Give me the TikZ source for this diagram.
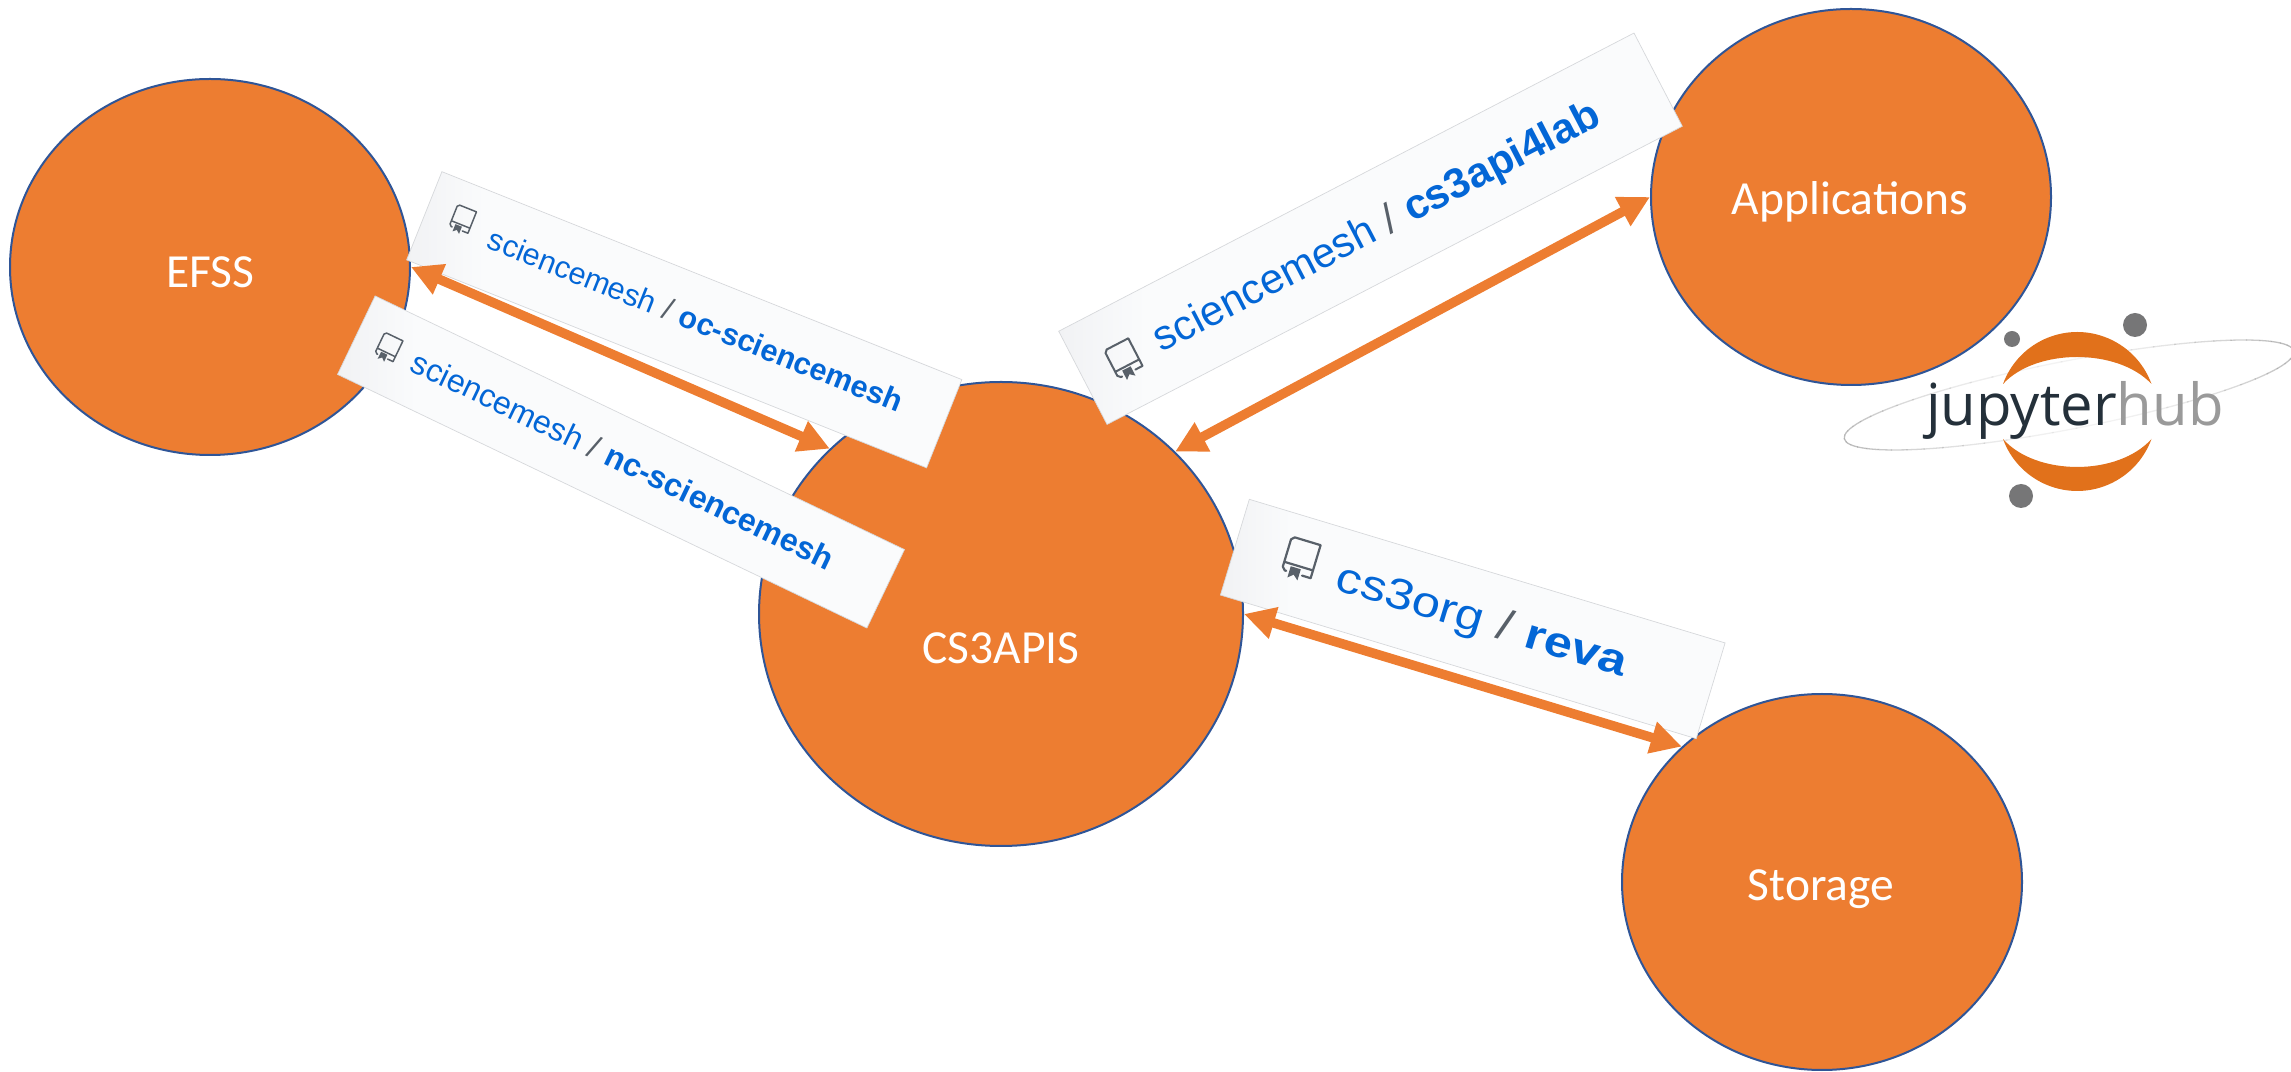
\documentclass[tikz,border=0pt]{standalone}
\usepackage{fontspec}
\setmainfont{Liberation Sans}
\newfontfamily\calibfont{Carlito}
\newfontfamily\logofont{Open Sans}
\usetikzlibrary{arrows.meta,shapes.geometric}
\definecolor{hubfill}{HTML}{ED7D31}
\definecolor{hubline}{HTML}{2F5597}
\definecolor{repoblue}{HTML}{0366D6}
\definecolor{repogray}{HTML}{586069}
\definecolor{panelfill}{HTML}{FAFBFC}
\definecolor{panelside}{HTML}{F1F2F4}
\definecolor{panelline}{HTML}{D6D8DB}
\definecolor{jorange}{HTML}{E1711B}
\definecolor{jdot}{HTML}{767677}
\definecolor{jdark}{HTML}{24303A}
\definecolor{jlight}{HTML}{9A9A9A}
\pgfdeclarehorizontalshading{panelshade}{100bp}{color(0bp)=(panelside); color(25bp)=(panelside); color(32bp)=(panelfill); color(100bp)=(panelfill)}
\tikzset{
  hub/.style={ellipse,draw=hubline,fill=hubfill,line width=2pt,inner sep=0pt},
  hubtext/.style={text=white,font=\calibfont\fontsize{47.5}{47.5}\selectfont,inner sep=0pt},
  panel/.style={rectangle,draw=panelline,line width=0.7pt,shade,shading=panelshade,inner sep=0pt},
  repotext/.style={anchor=base,inner sep=0pt,text=repoblue},
  link/.style={draw=hubfill,line width=9.5pt,{Triangle[length=31pt,width=31pt]}-{Triangle[length=31pt,width=31pt]}},
}
\newcommand{\repoicon}[3]{%
  \begin{scope}[shift={(#1)},scale=#2]
    \draw[repogray,line width=#3,line cap=round,line join=round]
      (-3.5,-5.5) -- (-4,-5.5) -- (-5,-4.5) -- (-5,5) -- (-4,6) -- (5,6) -- (5,-5.5) -- (2,-5.5)
      (-5,-2.8) -- (5,-2.8);
    \fill[repogray] (-2.5,-3.6) -- (1,-3.6) -- (1,-7.5) -- (-0.75,-6) -- (-2.5,-7.5) -- cycle;
  \end{scope}}
\newcommand{\repotxt}[2]{#1\hspace{.3em}\textcolor{repogray}{/}\hspace{.3em}{\bfseries #2}}
\begin{document}
\begin{tikzpicture}[x=1pt,y=1pt]
\useasboundingbox (0,0) rectangle (2291,1071);
\clip (0,0) rectangle (2291,1071);

\node[hub,minimum width=400pt,minimum height=376pt] (efss) at (210,804) {};
\node[hub,minimum width=484pt,minimum height=464pt] (cs3) at (1001,457) {};
\node[hub,minimum width=400pt,minimum height=376pt] (apps) at (1851,874) {};
\node[hub,minimum width=400pt,minimum height=376pt] (storage) at (1822,189) {};
\node[hubtext] (efsst) at (210,799) {EFSS};
\node[hubtext] (cs3t) at (1001,423) {CS3APIS};
\node[hubtext] (appst) at (1850,869) {Applications};
\node[hubtext] (storaget) at (1821,182) {Storage};

% oc panel
\begin{scope}[shift={(684.25,751.25)},rotate=-21.8,transform shape]
  \node[panel,minimum width=560pt,minimum height=95pt] (ocpanel) at (0,0) {};
  \repoicon{-243,11}{2.0}{1.5pt}
  \node[repotext,font=\fontsize{30.6}{30.6}\selectfont] (octext) at (11,-7) {\repotxt{sciencemesh}{oc-sciencemesh}};
\end{scope}

% nc panel
\begin{scope}[shift={(621,609)},rotate=-25.6,transform shape]
  \node[panel,minimum width=587pt,minimum height=87pt] (ncpanel) at (0,0) {};
  \repoicon{-259,3}{2.0}{1.5pt}
  \node[repotext,font=\fontsize{32}{32}\selectfont] (nctext) at (1,-9) {\repotxt{sciencemesh}{nc-sciencemesh}};
\end{scope}

% cs3api4lab panel
\begin{scope}[shift={(1370.5,842.25)},rotate=27.4,transform shape]
  \node[panel,minimum width=648pt,minimum height=105pt] (labpanel) at (0,0) {};
  \repoicon{-279,-2}{2.7}{2pt}
  \node[repotext,font=\fontsize{42}{42}\selectfont] (labtext) at (6,-14) {\repotxt{sciencemesh}{cs3api4lab}};
\end{scope}

% reva panel
\begin{scope}[shift={(1472.75,452)},rotate=-16.8,transform shape]
  \node[panel,minimum width=497pt,minimum height=100pt] (revapanel) at (0,0) {};
  \repoicon{-182,8.7}{3.0}{2.2pt}
  \node[repotext,font=\fontsize{43}{43}\selectfont] (revatext) at (9,-12) {\scalebox{1.18}[1]{\repotxt{cs3org}{reva}}};
\end{scope}

% connectors
\draw[link] (efss.east) -- (cs3.136.5);
\draw[link] (cs3.43.5) -- (apps.west);
\draw[link] (cs3.east) -- (storage.136.9);

% jupyterhub logo
\foreach \a in {0,6,...,354}{
  \pgfmathsetmacro{\op}{0.12+0.55*cos(\a)*cos(\a)}
  \pgfmathsetmacro{\b}{\a+6.5}
  \draw[jlight,line width=1.3pt,opacity=\op,rotate around={11:(2069,676)}]
    ({2069+229*cos(\a)},{676+34*sin(\a)}) arc[start angle=\a,end angle=\b,x radius=229,y radius=34];
}
\fill[jorange] (2003,687) arc[start angle=160,end angle=20,radius=79] .. controls (2118,723) and (2036,723) .. (2003,687);
\fill[jorange] (2003,632) arc[start angle=200,end angle=340,radius=79] .. controls (2118,594.7) and (2036,594.7) .. (2003,632);
\fill[jdot] (2012,732) circle[radius=8];
\fill[jdot] (2135,746) circle[radius=12];
\fill[jdot] (2021,575) circle[radius=12];
\node[anchor=base west,inner sep=0pt,font=\logofont\fontsize{58}{58}\selectfont] (jlogo) at (1926,645)
  {\textcolor{jdark}{jupyter}\textcolor{jlight}{hub}};
\end{tikzpicture}
\end{document}
